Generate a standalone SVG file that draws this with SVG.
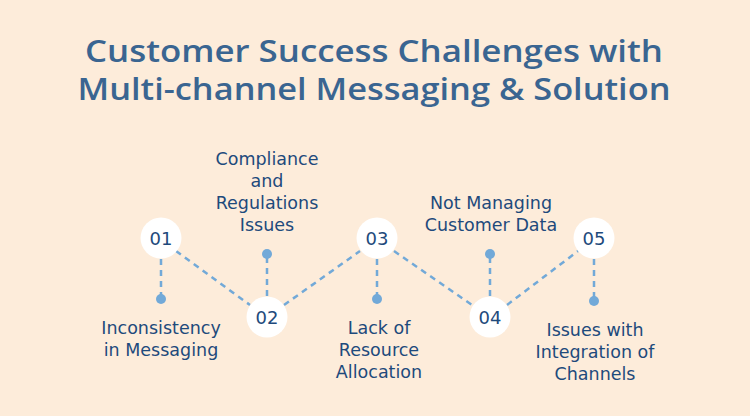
<svg xmlns="http://www.w3.org/2000/svg" width="750" height="416" viewBox="0 0 750 416">
<style>
.title{font-family:"Open Sans","Noto Sans",sans-serif;font-size:31px;font-weight:600;fill:#3a6591;text-anchor:middle}
.lbl{font-family:"DejaVu Sans","Noto Sans",sans-serif;font-size:17.5px;fill:#1e4a7c;text-anchor:middle}
.num{font-family:"DejaVu Sans","Noto Sans",sans-serif;font-size:18px;fill:#1e4a7c;text-anchor:middle}
.c{fill:#ffffff}
.d{fill:#72a9d8}
.ln{stroke:#72a9d8;stroke-width:2.5;stroke-dasharray:6 5;fill:none}
</style>
<rect width="750" height="416" fill="#fdecda"/>
<text class="title" x="374" y="62" textLength="578" lengthAdjust="spacingAndGlyphs">Customer Success Challenges with</text>
<text class="title" x="374" y="100" textLength="593" lengthAdjust="spacingAndGlyphs">Multi-channel Messaging &amp; Solution</text>
<g id="connectors">
<line class="ln" x1="176" y1="251" x2="250" y2="305"/>
<line class="ln" x1="284" y1="305" x2="360" y2="251"/>
<line class="ln" x1="394" y1="251" x2="472" y2="305"/>
<line class="ln" x1="507" y1="305" x2="578" y2="251"/>
<line class="ln" x1="161" y1="259" x2="161" y2="295"/>
<line class="ln" x1="267" y1="257" x2="267" y2="296"/>
<line class="ln" x1="377" y1="259" x2="377" y2="295"/>
<line class="ln" x1="490" y1="257" x2="490" y2="296"/>
<line class="ln" x1="594" y1="259" x2="594" y2="297"/>
</g>
<g id="n1">
<circle class="c" cx="161" cy="238" r="20.5"/>
<text class="num" x="161" y="244.5">01</text>
<circle class="d" cx="161" cy="299" r="5"/>
<text class="lbl" x="161" y="334">Inconsistency</text>
<text class="lbl" x="161" y="356">in Messaging</text>
</g>
<g id="n2">
<circle class="c" cx="267" cy="317" r="20.5"/>
<text class="num" x="267" y="323.5">02</text>
<circle class="d" cx="267" cy="254" r="5"/>
<text class="lbl" x="267" y="165">Compliance</text>
<text class="lbl" x="267" y="187">and</text>
<text class="lbl" x="267" y="209">Regulations</text>
<text class="lbl" x="267" y="231">Issues</text>
</g>
<g id="n3">
<circle class="c" cx="377" cy="238" r="20.5"/>
<text class="num" x="377" y="244.5">03</text>
<circle class="d" cx="377" cy="299" r="5"/>
<text class="lbl" x="379" y="334">Lack of</text>
<text class="lbl" x="379" y="356">Resource</text>
<text class="lbl" x="379" y="378">Allocation</text>
</g>
<g id="n4">
<circle class="c" cx="490" cy="317" r="20.5"/>
<text class="num" x="490" y="323.5">04</text>
<circle class="d" cx="490" cy="254" r="5"/>
<text class="lbl" x="491" y="209">Not Managing</text>
<text class="lbl" x="491" y="231">Customer Data</text>
</g>
<g id="n5">
<circle class="c" cx="594" cy="238" r="20.5"/>
<text class="num" x="594" y="244.5">05</text>
<circle class="d" cx="594" cy="301" r="5"/>
<text class="lbl" x="595" y="336">Issues with</text>
<text class="lbl" x="595" y="358">Integration of</text>
<text class="lbl" x="595" y="380">Channels</text>
</g>
</svg>
